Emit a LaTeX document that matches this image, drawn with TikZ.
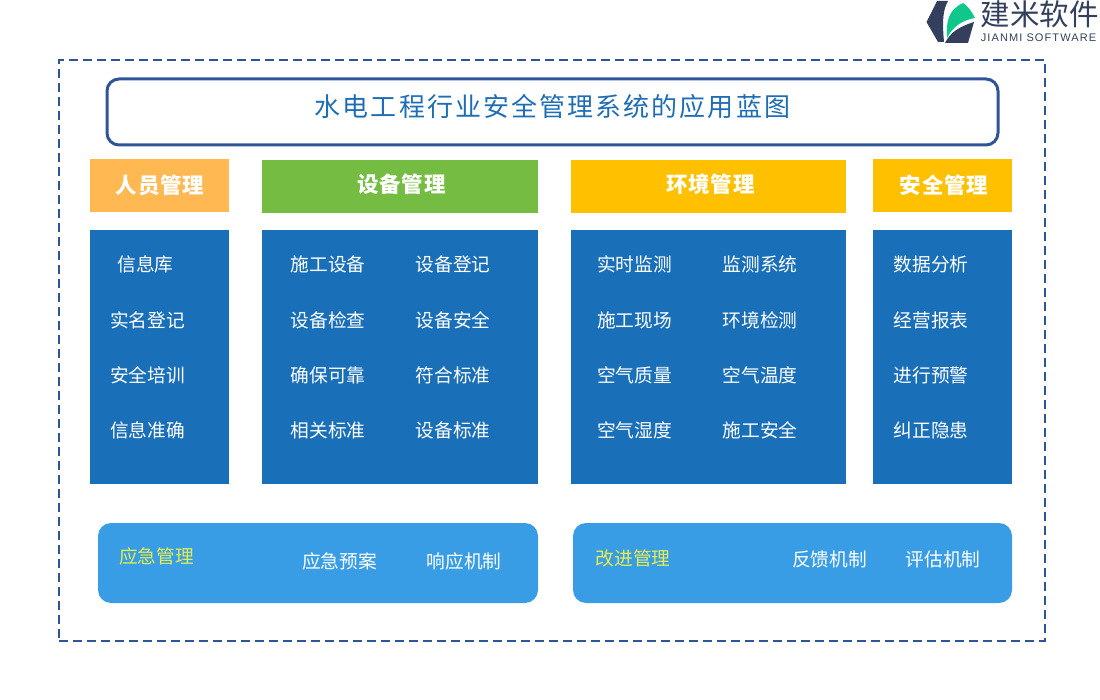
\documentclass[tikz,border=0pt]{standalone}
\usepackage{fontspec}
\setmainfont{Noto Sans CJK SC}
\newfontfamily\titlefont[LetterSpace=8]{Noto Sans CJK SC}
\newfontfamily\headfont[LetterSpace=3.5]{Noto Sans CJK SC}
\newfontfamily\latinfont[LetterSpace=10]{Liberation Sans}
\definecolor{framecol}{HTML}{2F5597}
\definecolor{titlecol}{HTML}{1F6DB5}
\definecolor{orangecol}{HTML}{FFB852}
\definecolor{greencol}{HTML}{75BD42}
\definecolor{yellowcol}{HTML}{FFC000}
\definecolor{bluecol}{HTML}{1A6FB9}
\definecolor{lightcol}{HTML}{389DE4}
\definecolor{logocol}{HTML}{333F5C}
\definecolor{logogreen}{HTML}{0FC78A}

\tikzset{
  head node/.style={minimum height=53pt,inner sep=0pt},
  head text/.style={inner sep=0pt,text=white,font=\headfont\fontsize{21.5}{24}\selectfont\bfseries},
  panel node/.style={fill=bluecol,minimum height=254pt,inner sep=0pt},
  item node/.style={inner sep=0pt,text=white,font=\fontsize{18.7}{22}\selectfont},
  band node/.style={fill=lightcol,rounded corners=13pt,minimum height=80pt,inner sep=0pt},
  band title/.style={inner sep=0pt,text=yellow!85!green!70!white,font=\fontsize{18.7}{22}\selectfont},
}

\begin{document}
\begin{tikzpicture}[x=1pt,y=-1pt]
  \useasboundingbox (0,0) rectangle (1100,700);

  % frame and title
  \node[draw=framecol,line width=2pt,dashed,dash pattern=on 9pt off 5pt,minimum width=986pt,minimum height=581pt,inner sep=0pt] (frame) at (552,350.5) {};
  \node[draw=framecol,line width=3pt,rounded corners=12pt,minimum width=891pt,minimum height=66pt,inner sep=0pt] (titlebox) at (552.5,112) {};
  \node[inner sep=0pt,text=titlecol,font=\titlefont\fontsize{26}{30}\selectfont] (title) at (552.5,107) {水电工程行业安全管理系统的应用蓝图};

  % headers
  \node[head node,fill=orangecol,minimum width=139pt] (people) at (159.5,185.5) {};
  \node[head node,fill=greencol,minimum width=276pt] (device) at (400,186.5) {};
  \node[head node,fill=yellowcol,minimum width=275pt] (environ) at (708.5,186.5) {};
  \node[head node,fill=yellowcol,minimum width=139pt] (safety) at (942.5,185.5) {};
  \node[head text] (peopletext) at (160,185) {人员管理};
  \node[head text] (devicetext) at (401.5,184) {设备管理};
  \node[head text] (environtext) at (710.5,184) {环境管理};
  \node[head text] (safetytext) at (944,185) {安全管理};

  % panels
  \node[panel node,minimum width=139pt] (panel1) at (159.5,357) {};
  \node[panel node,minimum width=276pt] (panel2) at (400,357) {};
  \node[panel node,minimum width=275pt] (panel3) at (708.5,357) {};
  \node[panel node,minimum width=139pt] (panel4) at (942.5,357) {};

  % people items
  \node[item node] (a1) at (145.5,264) {信息库};
  \node[item node] (a2) at (147.5,320) {实名登记};
  \node[item node] (a3) at (147.5,375) {安全培训};
  \node[item node] (a4) at (147.5,430) {信息准确};

  % device items
  \node[item node] (b1) at (328,264) {施工设备};
  \node[item node] (b2) at (453,264) {设备登记};
  \node[item node] (b3) at (328,320) {设备检查};
  \node[item node] (b4) at (453,320) {设备安全};
  \node[item node] (b5) at (328,375) {确保可靠};
  \node[item node] (b6) at (453,375) {符合标准};
  \node[item node] (b7) at (328,430) {相关标准};
  \node[item node] (b8) at (453,430) {设备标准};

  % environment items
  \node[item node] (c1) at (634.5,264) {实时监测};
  \node[item node] (c2) at (760,264) {监测系统};
  \node[item node] (c3) at (634.5,320) {施工现场};
  \node[item node] (c4) at (760,320) {环境检测};
  \node[item node] (c5) at (634.5,375) {空气质量};
  \node[item node] (c6) at (760,375) {空气温度};
  \node[item node] (c7) at (634.5,430) {空气湿度};
  \node[item node] (c8) at (760,430) {施工安全};

  % safety items
  \node[item node] (d1) at (931,264) {数据分析};
  \node[item node] (d2) at (931,320) {经营报表};
  \node[item node] (d3) at (931,375) {进行预警};
  \node[item node] (d4) at (931,430) {纠正隐患};

  % bottom bands
  \node[band node,minimum width=440pt] (band1) at (318,563) {};
  \node[band node,minimum width=439pt] (band2) at (792.5,563) {};
  \node[band title] (e1) at (156.5,556) {应急管理};
  \node[item node] (e2) at (339.5,561) {应急预案};
  \node[item node] (e3) at (464,561) {响应机制};
  \node[band title] (f1) at (633,558) {改进管理};
  \node[item node] (f2) at (829.5,559) {反馈机制};
  \node[item node] (f3) at (943,559) {评估机制};

  % logo
  \fill[logocol] (937,1) -- (948,1) .. controls (943,10) and (942,20) .. (944,42) -- (938,42) -- (926.5,22) -- cycle;
  \fill[logogreen] (947,38) .. controls (946,22) and (948,10) .. (963,3) .. controls (968,6) and (972,12) .. (975,18) .. controls (963,20) and (953,26) .. (947,38) -- cycle;
  \fill[logocol] (945,43) .. controls (950,33) and (958,27) .. (974,22) -- (968,43) -- cycle;
  \node[inner sep=0pt,text=logocol,font=\fontsize{29.5}{32}\selectfont] (logotext) at (1039.5,14) {建米软件};
  \node[inner sep=0pt,text=logocol,font=\latinfont\fontsize{11}{13}\selectfont] (logosub) at (1038.5,38) {JIANMI SOFTWARE};
\end{tikzpicture}
\end{document}
